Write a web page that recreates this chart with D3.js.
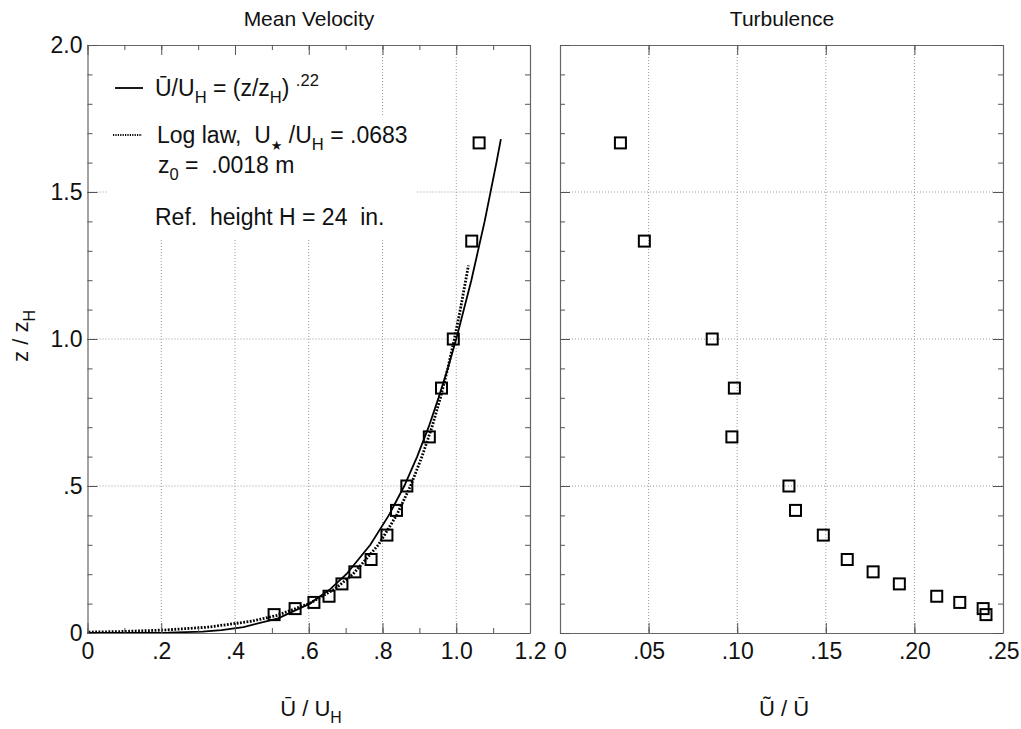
<!DOCTYPE html>
<html>
<head>
<meta charset="utf-8">
<script src="https://cdn.jsdelivr.net/npm/d3@7/dist/d3.min.js"></script>
<style>
	body { margin: 0; background: #fff; }
	text { font-family: "Liberation Sans", Arial, Helvetica, sans-serif; fill: #111; white-space: pre; }
</style>
</head>
<body>
<script>
(function () {
	"use strict";

	var w = 1021;
	var h = 729;

	// measurement heights z/zH
	var heights = [1.667, 1.333, 1.0, 0.833, 0.667, 0.5, 0.417, 0.333, 0.25, 0.208, 0.167, 0.125, 0.104, 0.083, 0.0625];
	// mean velocity U/UH at those heights
	var meanVel = [1.062, 1.042, 0.992, 0.96, 0.927, 0.866, 0.838, 0.812, 0.769, 0.725, 0.69, 0.655, 0.614, 0.563, 0.506];
	// turbulence intensity at those heights
	var turb = [0.0341, 0.0476, 0.0859, 0.0984, 0.097, 0.1292, 0.1329, 0.1486, 0.1621, 0.1767, 0.1915, 0.2126, 0.2256, 0.2388, 0.2404];

	// power law curve
	var powZ = [0, 0.0001, 0.001, 0.005, 0.01, 0.02, 0.05, 0.1, 0.15, 0.2, 0.3, 0.4, 0.5, 0.6, 0.7, 0.8, 0.9, 1.0, 1.2, 1.4, 1.6, 1.68];
	var powU = [0, 0.132, 0.219, 0.312, 0.363, 0.423, 0.517, 0.603, 0.659, 0.702, 0.767, 0.817, 0.859, 0.894, 0.925, 0.952, 0.977, 1.0, 1.041, 1.077, 1.109, 1.121];
	// log law curve
	var logZ = [0.003, 0.005, 0.01, 0.02, 0.04, 0.06, 0.1, 0.15, 0.2, 0.3, 0.4, 0.5, 0.6, 0.7, 0.8, 0.9, 1.0, 1.1, 1.25];
	var logU = [0.003, 0.09, 0.208, 0.327, 0.445, 0.514, 0.601, 0.671, 0.72, 0.789, 0.838, 0.876, 0.907, 0.934, 0.957, 0.977, 0.995, 1.011, 1.033];

	// tick labels
	var yTicks = [0, 0.5, 1.0, 1.5, 2.0];
	var yLabels = ["0", ".5", "1.0", "1.5", "2.0"];
	var velTicks = [0, 0.2, 0.4, 0.6, 0.8, 1.0, 1.2];
	var velLabels = ["0", ".2", ".4", ".6", ".8", "1.0", "1.2"];
	var turbTicks = [0, 0.05, 0.10, 0.15, 0.20, 0.25];
	var turbLabels = ["0", ".05", ".10", ".15", ".20", ".25"];
	var yMinor = d3.range(0, 2.0001, 0.1);
	var velMinor = d3.range(0, 1.2001, 0.1);

	var top = 45, bottom = 633;

	var svg = d3.select("body")
		.append("svg")
		.attr("width", w)
		.attr("height", h);

	var yScale = d3.scaleLinear().domain([0, 2]).range([bottom, top]);
	var xVel = d3.scaleLinear().domain([0, 1.2]).range([87.5, 530]);
	var xTurb = d3.scaleLinear().domain([0, 0.25]).range([560, 1003]);

	function fmt(ticks, labels) {
		return function (d) {
			var i = ticks.findIndex(function (t) { return Math.abs(t - d) < 1e-9; });
			return i < 0 ? "" : labels[i];
		};
	}

	function grid(g, x, xt) {
		g.selectAll(".gx")
			.data(xt.slice(1, -1))
			.enter().append("line")
			.attr("x1", (d) => x(d)).attr("x2", (d) => x(d))
			.attr("y1", top).attr("y2", bottom)
			.attr("stroke", "#9a9a9a").attr("stroke-width", 1)
			.attr("stroke-dasharray", "1,2");
		g.selectAll(".gy")
			.data(yTicks.slice(1, -1))
			.enter().append("line")
			.attr("x1", x.range()[0]).attr("x2", x.range()[1])
			.attr("y1", (d) => yScale(d)).attr("y2", (d) => yScale(d))
			.attr("stroke", "#9a9a9a").attr("stroke-width", 1)
			.attr("stroke-dasharray", "1,2");
	}

	function frame(g, x, xt, xl, xm, showY) {
		var x0 = x.range()[0], x1 = x.range()[1];
		var style = function (sel) {
			sel.selectAll("path").attr("stroke", "#666").attr("stroke-width", 1.2);
			sel.selectAll("line").attr("stroke", "#555").attr("stroke-width", 1);
			sel.selectAll("text").attr("fill", "#111").style("font-size", "23px")
				.style("font-family", "'Liberation Sans', Arial, sans-serif");
		};
		// bottom
		g.append("g").attr("transform", "translate(0," + bottom + ")")
			.call(d3.axisBottom(x).tickValues(xt).tickFormat(fmt(xt, xl))
				.tickSizeInner(-10).tickSizeOuter(0).tickPadding(10))
			.call(style);
		g.append("g").attr("transform", "translate(0," + bottom + ")")
			.call(d3.axisBottom(x).tickValues(xm).tickFormat("").tickSizeInner(-5).tickSizeOuter(0))
			.call(style).select(".domain").remove();
		// top
		g.append("g").attr("transform", "translate(0," + top + ")")
			.call(d3.axisTop(x).tickValues(xt).tickFormat("").tickSizeInner(-10).tickSizeOuter(0))
			.call(style);
		g.append("g").attr("transform", "translate(0," + top + ")")
			.call(d3.axisTop(x).tickValues(xm).tickFormat("").tickSizeInner(-5).tickSizeOuter(0))
			.call(style).select(".domain").remove();
		// left
		g.append("g").attr("transform", "translate(" + x0 + ",0)")
			.call(d3.axisLeft(yScale).tickValues(yTicks)
				.tickFormat(showY ? fmt(yTicks, yLabels) : "")
				.tickSizeInner(-10).tickSizeOuter(0).tickPadding(5))
			.call(style);
		g.append("g").attr("transform", "translate(" + x0 + ",0)")
			.call(d3.axisLeft(yScale).tickValues(yMinor).tickFormat("").tickSizeInner(-5).tickSizeOuter(0))
			.call(style).select(".domain").remove();
		// right
		g.append("g").attr("transform", "translate(" + x1 + ",0)")
			.call(d3.axisRight(yScale).tickValues(yTicks).tickFormat("").tickSizeInner(-10).tickSizeOuter(0))
			.call(style);
		g.append("g").attr("transform", "translate(" + x1 + ",0)")
			.call(d3.axisRight(yScale).tickValues(yMinor).tickFormat("").tickSizeInner(-5).tickSizeOuter(0))
			.call(style).select(".domain").remove();
	}

	function squares(g, x, xs) {
		var s = 11;
		g.selectAll(".sq")
			.data(xs.map((v, i) => [v, heights[i]]))
			.enter().append("rect")
			.attr("x", (d) => x(d[0]) - s / 2)
			.attr("y", (d) => yScale(d[1]) - s / 2)
			.attr("width", s).attr("height", s)
			.attr("fill", "none")
			.attr("stroke", "#000")
			.attr("stroke-width", 2);
	}

	// ---- left panel: mean velocity
	var left = svg.append("g");
	grid(left, xVel, velTicks);

	var legendBg = left.append("g");

	var line = d3.line()
		.x((d) => xVel(d[0]))
		.y((d) => yScale(d[1]));

	left.append("path")
		.attr("d", line(logU.map((u, i) => [u, logZ[i]])))
		.attr("fill", "none")
		.attr("stroke", "#000")
		.attr("stroke-width", 2.8)
		.attr("stroke-dasharray", "1.8,1.5");

	left.append("path")
		.attr("d", line(powU.map((u, i) => [u, powZ[i]])))
		.attr("fill", "none")
		.attr("stroke", "#000")
		.attr("stroke-width", 1.8);

	squares(left, xVel, meanVel);
	frame(left, xVel, velTicks, velLabels, velMinor, true);

	// ---- right panel: turbulence
	var right = svg.append("g");
	grid(right, xTurb, turbTicks);
	squares(right, xTurb, turb);
	frame(right, xTurb, turbTicks, turbLabels, turbTicks, false);

	// ---- titles
	svg.append("text").attr("x", 309).attr("y", 26).attr("text-anchor", "middle")
		.style("font-size", "21px").text("Mean Velocity");
	svg.append("text").attr("x", 782).attr("y", 26).attr("text-anchor", "middle")
		.style("font-size", "21px").text("Turbulence");

	// ---- rich text helper: parts of [text, "sub"|"sup"|null, font]
	function rich(g, x, y, parts, size, anchor) {
		var t = g.append("text").attr("x", x).attr("y", y)
			.attr("text-anchor", anchor || "start")
			.style("font-size", size + "px");
		var shift = 0;
		parts.forEach(function (p) {
			var ts = t.append("tspan").text(p[0]);
			var want = p[1] === "sub" ? size * 0.3 : p[1] === "sup" ? -size * 0.45 : 0;
			ts.attr("dy", want - shift);
			shift = want;
			if (p[1]) ts.style("font-size", (size * 0.72) + "px");
			if (p[2]) ts.style("font-family", p[2]);
		});
		return t;
	}

	// axis titles
	rich(svg, 311, 716, [["Ū / U"], ["H", "sub"]], 22, "middle");
	rich(svg, 784, 716, [["Ũ / Ū"]], 22, "middle");
	rich(svg.append("g").attr("transform", "translate(28,336) rotate(-90)"), 0, 0,
		[["z / z"], ["H", "sub"]], 22, "middle");

	// ---- legend
	var lg = left.append("g");
	var fs = 23;
	var r1 = rich(lg, 155, 96, [["Ū/U"], ["H", "sub"], [" = (z/z"], ["H", "sub"], [") "], [".22", "sup"]], fs);
	var r2 = rich(lg, 157, 143, [["Log law,  U"], ["★", "sub", "DejaVu Sans"], [" /U"], ["H", "sub"], [" = .0683"]], fs);
	var r3 = rich(lg, 158, 173, [["z"], ["0", "sub"], [" =  .0018 m"]], fs);
	var r4 = rich(lg, 155, 225, [["Ref.  height H = 24  in."]], fs);
	r2.select("tspan:nth-child(2)").style("font-size", "13px");

	lg.append("line").attr("x1", 115).attr("x2", 143).attr("y1", 88).attr("y2", 88)
		.attr("stroke", "#000").attr("stroke-width", 1.8);
	lg.append("line").attr("x1", 113).attr("x2", 142).attr("y1", 135).attr("y2", 135)
		.attr("stroke", "#000").attr("stroke-width", 2)
		.attr("stroke-dasharray", "1.2,1.2");

	var b1 = r1.node().getBBox();
	var b2 = r2.node().getBBox();
	var b4 = r4.node().getBBox();
	var rightMost = d3.max([r2, r3, r4], (r) => { var b = r.node().getBBox(); return b.x + b.width; });
	legendBg.append("rect")
		.attr("x", 108).attr("y", top + 1)
		.attr("width", b1.x + b1.width + 12 - 108)
		.attr("height", b2.y - 4 - top)
		.attr("fill", "#fff");
	legendBg.append("rect")
		.attr("x", 108).attr("y", b2.y - 5)
		.attr("width", rightMost + 8 - 108)
		.attr("height", b4.y + b4.height + 8 - (b2.y - 5))
		.attr("fill", "#fff");
})();
</script>
</body>
</html>
